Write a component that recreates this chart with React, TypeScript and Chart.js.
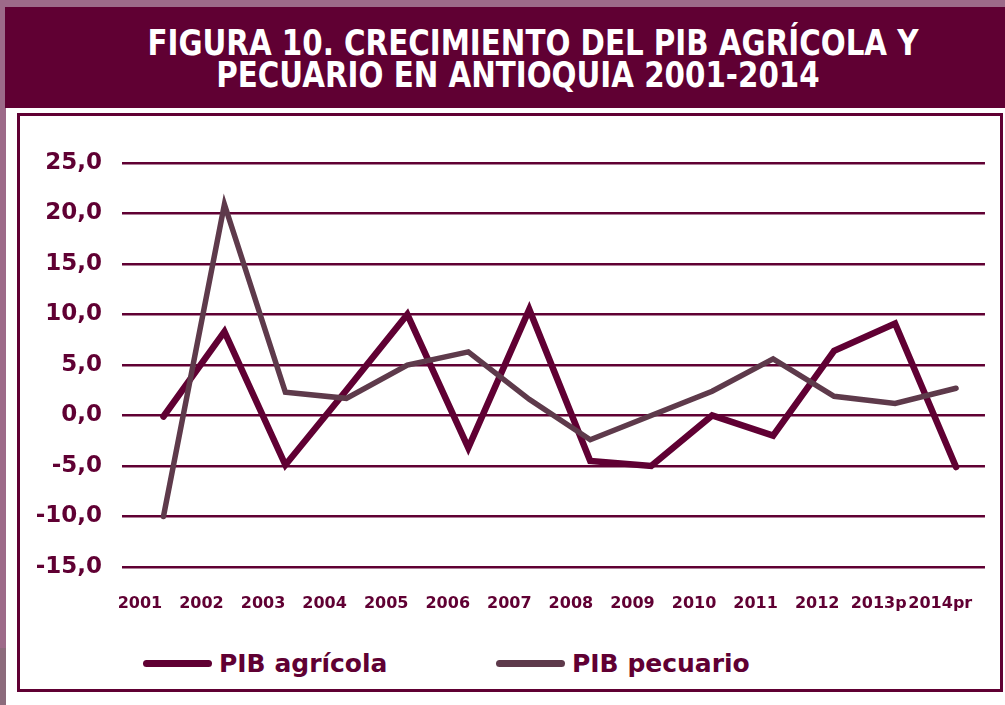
import React, { useEffect, useRef } from 'react';
import { Chart, registerables } from 'chart.js';

Chart.register(...registerables);

// ---- data ----
const years = ['2001', '2002', '2003', '2004', '2005', '2006', '2007', '2008', '2009', '2010', '2011', '2012', '2013p', '2014pr'];
const pibAgricola = [-0.1, 8.3, -4.9, 2.5, 10.0, -3.2, 10.5, -4.5, -5.0, 0.0, -2.0, 6.4, 9.1, -5.1];
const pibPecuario = [-10.0, 20.9, 2.3, 1.7, 5.0, 6.3, 1.6, -2.4, 0.0, 2.4, 5.6, 1.9, 1.2, 2.7];
const seriesNames = ['PIB agrícola', 'PIB pecuario'];
const yMin = -15;
const yMax = 25;
const yStep = 5;
const titleLines = ['FIGURA 10. CRECIMIENTO DEL PIB AGRÍCOLA Y', 'PECUARIO EN ANTIOQUIA 2001-2014'];

// ---- styles ----
const MAROON = '#600033';
const PEC = '#5e3a4b';
const MAUVE = '#9d6a89';
const FONT = "'DejaVu Sans', 'Noto Sans', sans-serif";
const TITLE_FONT = "'DejaVu Sans', sans-serif";

export default function App() {
  const ref = useRef<HTMLCanvasElement>(null);

  useEffect(() => {
    const canvas = ref.current;
    if (!canvas) return;
    const chart = new Chart(canvas, {
      type: 'line',
      data: {
        datasets: [
          {
            label: seriesNames[0],
            data: pibAgricola.map((v, i) => ({ x: i, y: v })),
            borderColor: MAROON,
            backgroundColor: MAROON,
            borderWidth: 6.5,
            pointRadius: 0,
            borderCapStyle: 'round',
            borderJoinStyle: 'miter',
            tension: 0,
            order: 1,
            xAxisID: 'x',
            yAxisID: 'y',
          },
          {
            label: seriesNames[1],
            data: pibPecuario.map((v, i) => ({ x: i, y: v })),
            borderColor: PEC,
            backgroundColor: PEC,
            borderWidth: 5.5,
            pointRadius: 0,
            borderCapStyle: 'round',
            borderJoinStyle: 'miter',
            tension: 0,
            order: 0,
            xAxisID: 'x',
            yAxisID: 'y',
          },
        ],
      },
      options: {
        responsive: false,
        maintainAspectRatio: false,
        animation: false,
        layout: { padding: { top: 47, right: 15, left: 0, bottom: 0 } },
        plugins: {
          legend: { display: false },
          tooltip: { enabled: false },
          title: { display: false },
        },
        scales: {
          x: {
            type: 'linear',
            display: false,
            min: -0.68,
            max: 13.475,
          },
          xLabels: {
            type: 'linear',
            position: 'bottom',
            min: -0.291,
            max: 13.726,
            grid: { display: false, drawTicks: false },
            border: { display: false },
            ticks: {
              stepSize: 1,
              includeBounds: false,
              autoSkip: false,
              maxRotation: 0,
              minRotation: 0,
              padding: 27,
              color: MAROON,
              font: { family: FONT, weight: 'bold', size: 16 },
              callback: (v: any) => (Number.isInteger(v) && years[v] !== undefined ? years[v] : ''),
            },
            afterFit: (s: any) => {
              s.height = 49;
            },
          },
          y: {
            type: 'linear',
            min: yMin,
            max: yMax,
            grid: { color: MAROON, lineWidth: 2.5, drawTicks: false },
            border: { display: false },
            ticks: {
              stepSize: yStep,
              padding: 20,
              color: MAROON,
              font: { family: FONT, weight: 'bold', size: 23 },
              callback: (v: any) => Number(v).toFixed(1).replace('.', ','),
            },
            afterFit: (s: any) => {
              s.width = 102;
            },
          },
        },
      },
    } as any);
    return () => chart.destroy();
  }, []);

  const legendColors = [MAROON, PEC];
  const legendLeft = [143, 496];

  const titleStyle: React.CSSProperties = {
    position: 'absolute',
    textAlign: 'center',
    color: '#ffffff',
    fontFamily: TITLE_FONT,
    fontWeight: 'bold',
    fontSize: 36,
    lineHeight: '36px',
    whiteSpace: 'nowrap',
    transform: 'scaleX(0.815)',
    transformOrigin: '50% 50%',
  };

  return (
    <div
      style={{
        position: 'fixed',
        left: 0,
        top: 0,
        width: 1005,
        height: 705,
        overflow: 'hidden',
        background: MAUVE,
      }}
    >
      <div style={{ position: 'absolute', left: 0, top: 648, width: 6, height: 57, background: '#8c6b7c' }} />
      <div style={{ position: 'absolute', left: 5, top: 7, width: 1000, height: 101, background: MAROON }} />
      <div style={{ position: 'absolute', left: 6, top: 108, width: 999, height: 597, background: '#ffffff' }} />
      <div style={{ ...titleStyle, left: 33, top: 25, width: 1000 }}>{titleLines[0]}</div>
      <div style={{ ...titleStyle, left: 18, top: 57, width: 1000 }}>{titleLines[1]}</div>
      <div
        style={{
          position: 'absolute',
          left: 17,
          top: 113,
          width: 986,
          height: 579,
          boxSizing: 'border-box',
          border: `3px solid ${MAROON}`,
        }}
      />
      <canvas
        ref={ref}
        width={980}
        height={500}
        style={{ position: 'absolute', left: 20, top: 116, width: 980, height: 500 }}
      />
      {seriesNames.map((name, i) => (
        <React.Fragment key={name}>
          <div
            style={{
              position: 'absolute',
              left: legendLeft[i],
              top: 660,
              width: 69,
              height: 7,
              borderRadius: 4,
              background: legendColors[i],
            }}
          />
          <div
            style={{
              position: 'absolute',
              left: legendLeft[i] + 76,
              top: 651,
              color: MAROON,
              fontFamily: FONT,
              fontWeight: 'bold',
              fontSize: 25,
              lineHeight: '25px',
              whiteSpace: 'nowrap',
            }}
          >
            {name}
          </div>
        </React.Fragment>
      ))}
    </div>
  );
}
